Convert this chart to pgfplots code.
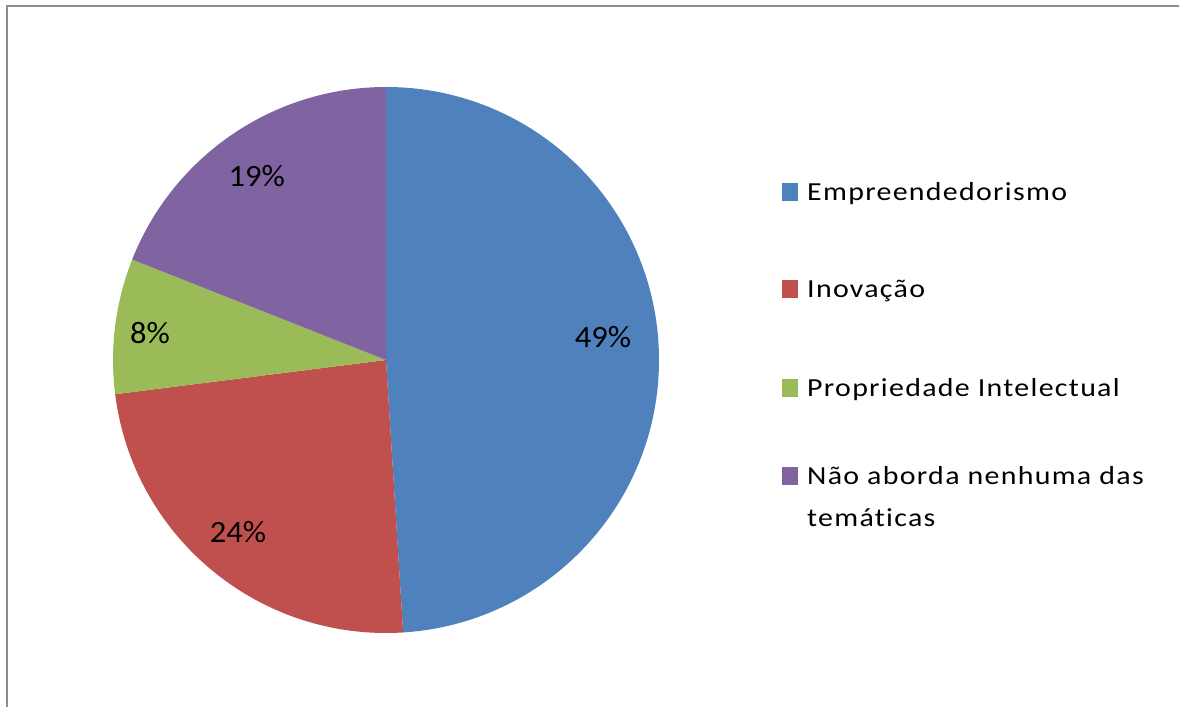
\documentclass[border=0pt]{standalone}
\usepackage{pgfplots}
\pgfplotsset{compat=1.18}
\usepackage{fontspec}
\setmainfont{Carlito}
\newfontfamily\legfont[LetterSpace=5, FakeStretch=1.15, Ligatures=NoCommon]{Carlito}
\newfontfamily\labfont[FakeStretch=1.05]{Carlito}
\definecolor{cBlue}{HTML}{4F81BD}
\definecolor{cRed}{HTML}{C0504D}
\definecolor{cGreen}{HTML}{9BBB59}
\definecolor{cPurple}{HTML}{8064A2}
\definecolor{frame}{HTML}{8C8C8C}
% values (percent)
\def\vA{49}\def\vB{24}\def\vC{8}\def\vD{19}
\begin{document}
\begin{tikzpicture}[x=1pt,y=1pt]
\useasboundingbox (0,0) rectangle (1179,707);
\draw[frame, line width=2.2pt] (7,0) -- (7,701) -- (1179,701);
\begin{axis}[at={(386pt,347pt)}, anchor=center, x=273pt, y=273pt,
  xmin=-1, xmax=1, ymin=-1, ymax=1, hide axis, clip=false]
  \fill[cBlue] (axis cs:0,0) -- ++(90:273pt) arc[start angle=90, end angle={90-3.6*\vA}, radius=273pt] -- cycle;
  \fill[cRed] (axis cs:0,0) -- ++({90-3.6*\vA}:273pt) arc[start angle={90-3.6*\vA}, end angle={90-3.6*(\vA+\vB)}, radius=273pt] -- cycle;
  \fill[cGreen] (axis cs:0,0) -- ++({90-3.6*(\vA+\vB)}:273pt) arc[start angle={90-3.6*(\vA+\vB)}, end angle={90-3.6*(\vA+\vB+\vC)}, radius=273pt] -- cycle;
  \fill[cPurple] (axis cs:0,0) -- ++({90-3.6*(\vA+\vB+\vC)}:273pt) arc[start angle={90-3.6*(\vA+\vB+\vC)}, end angle={90-3.6*(\vA+\vB+\vC+\vD)}, radius=273pt] -- cycle;
  \begin{scope}[every node/.style={font=\labfont\fontsize{31}{36}\selectfont, text=black}]
  \node at (axis cs:0.795,0.084) {49\%};
  \node at (axis cs:-0.542,-0.630) {24\%};
  \node at (axis cs:-0.864,0.099) {8\%};
  \node at (axis cs:-0.473,0.674) {19\%};
  \end{scope}
\end{axis}
\begin{scope}[every node/.style={font=\legfont\fontsize{26}{30}\selectfont, anchor=base west, inner sep=0pt}]
\fill[cBlue] (782,506) rectangle (798,524);
\node at (807,506) {Empreendedorismo};
\fill[cRed] (782,409) rectangle (798,427);
\node at (807,409) {Inovação};
\fill[cGreen] (782,310) rectangle (798,328);
\node at (807,310) {Propriedade Intelectual};
\fill[cPurple] (782,222) rectangle (798,240);
\node at (807,222) {Não aborda nenhuma das};
\node at (807,180) {temáticas};
\end{scope}
\end{tikzpicture}
\end{document}
